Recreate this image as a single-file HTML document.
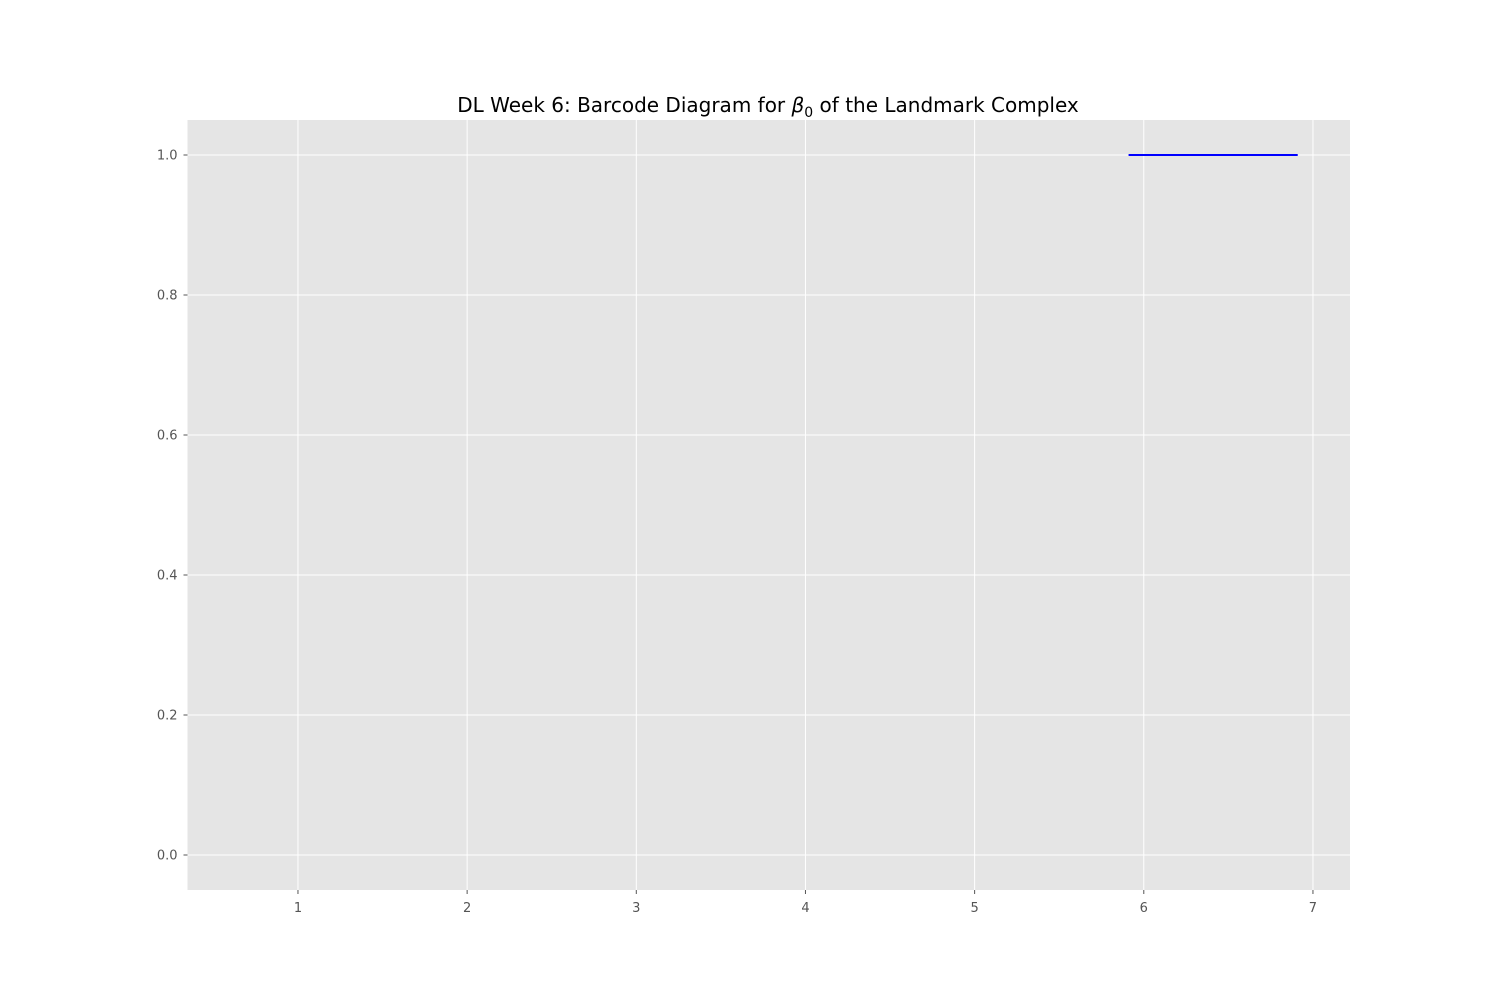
<!DOCTYPE html>
<html><head><meta charset="utf-8"><style>
body{margin:0;background:#fff;}
svg{display:block;font-family:"DejaVu Sans","Liberation Sans",sans-serif;}
</style></head><body>
<svg id="chart" width="1500" height="1000">
<rect x="0" y="0" width="1500" height="1000" fill="#fff"/>
<rect x="187.5" y="120" width="1162.5" height="770" fill="#e5e5e5"/>
<g id="grid"></g><g id="ticks"></g><g id="bars"></g>
<text x="768" y="112" text-anchor="middle" font-size="20" fill="#000">DL Week 6: Barcode Diagram for <tspan font-style="italic">β</tspan><tspan font-size="14" dy="5">0</tspan><tspan dy="-5"> of the Landmark Complex</tspan></text>
</svg>
<script>
const xTicks=[1,2,3,4,5,6,7];
const yTicks=[0.0,0.2,0.4,0.6,0.8,1.0];
const births=[5.91];
const deaths=[6.91];
const levels=[1.0];
const L=187.5,R=1350,T=120,B=890,xmin=0.347,xmax=7.219,ymin=-0.05,ymax=1.05;
const sx=v=>L+(v-xmin)/(xmax-xmin)*(R-L);
const sy=v=>B-(v-ymin)/(ymax-ymin)*(B-T);
const NS="http://www.w3.org/2000/svg";
const grid=document.getElementById('grid'),ticks=document.getElementById('ticks'),bars=document.getElementById('bars');
function mk(t,a,p){const e=document.createElementNS(NS,t);for(const k in a)e.setAttribute(k,a[k]);p.appendChild(e);return e;}
xTicks.forEach(v=>{const x=sx(v);
const g=mk('line',{x1:x,x2:x,y1:T,y2:B,stroke:'#fff','stroke-width':1},grid);


const tk=mk('line',{x1:x,x2:x,y1:B,y2:B+4,stroke:'#555'},ticks);


const t=mk('text',{x:x,y:B+22,'text-anchor':'middle','font-size':13,fill:'#555'},ticks);
t.textContent=String(v);

});
yTicks.forEach(v=>{const y=sy(v);
const g=mk('line',{x1:L,x2:R,y1:y,y2:y,stroke:'#fff','stroke-width':1},grid);


const tk=mk('line',{x1:L-4,x2:L,y1:y,y2:y,stroke:'#555'},ticks);


const t=mk('text',{x:L-10,y:y+4.5,'text-anchor':'end','font-size':13,fill:'#555'},ticks);
t.textContent=v.toFixed(1);

});
births.forEach((b,i)=>{const l=mk('line',{x1:sx(b),x2:sx(deaths[i]),y1:sy(levels[i]),y2:sy(levels[i]),stroke:'#0000ff','stroke-width':2},bars);

});
</script>
</body></html>
